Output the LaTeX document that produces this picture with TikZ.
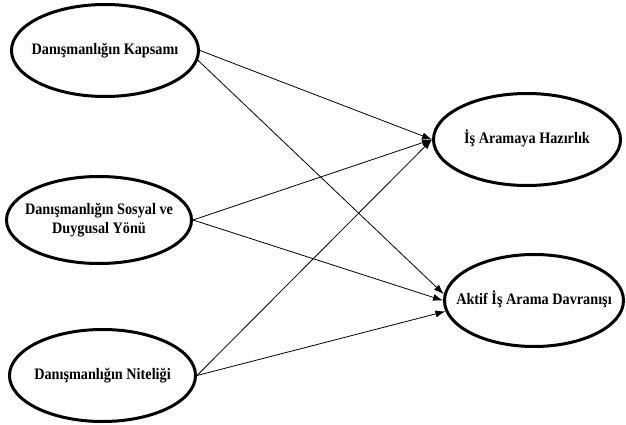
\documentclass[tikz,border=0pt]{standalone}
\usepackage{fontspec}
\setmainfont{Liberation Serif}[FakeStretch=0.89]
\usetikzlibrary{shapes.geometric,arrows.meta}

\newcommand{\ovaltext}[1]{\makebox[0pt]{\begin{tabular}{@{}c@{}}#1\end{tabular}}}

\tikzset{
  latent/.style={ellipse, draw, line width=3pt, inner sep=0pt,
    font=\fontsize{16}{19}\selectfont\bfseries},
  link/.style={line width=0.8pt, -{Latex[length=10pt,width=7pt]}}
}

\begin{document}
\begin{tikzpicture}[x=1pt,y=-1pt]
\useasboundingbox (0,0) rectangle (626,425);

% Counselling dimensions
\node[latent, minimum width=187pt, minimum height=92pt] (kapsam) at (105,50.5) {\ovaltext{Danışmanlığın Kapsamı}};
\node[latent, minimum width=185pt, minimum height=87pt] (sosyal) at (99,220) {\ovaltext{Danışmanlığın Sosyal ve\\Duygusal Yönü}};
\node[latent, minimum width=186pt, minimum height=92pt] (nitelik) at (102.5,375.5) {\ovaltext{Danışmanlığın Niteliği}};

% Outcomes
\node[latent, minimum width=187pt, minimum height=92pt] (hazir) at (527,139.5) {\ovaltext{İş Aramaya Hazırlık}};
\node[latent, minimum width=179pt, minimum height=92pt] (aktif) at (534,300.5) {\ovaltext{Aktif İş Arama Davranışı}};

% Paths
\draw[link] (kapsam.east) -- (hazir.west);
\draw[link] (kapsam.-6) -- (aktif.176);
\draw[link] (sosyal.east) -- (hazir.west);
\draw[link] (sosyal.east) -- (aktif.west);
\draw[link] (nitelik.east) -- (hazir.west);
\draw[link] (nitelik.east) -- (aktif.187);
\end{tikzpicture}
\end{document}
